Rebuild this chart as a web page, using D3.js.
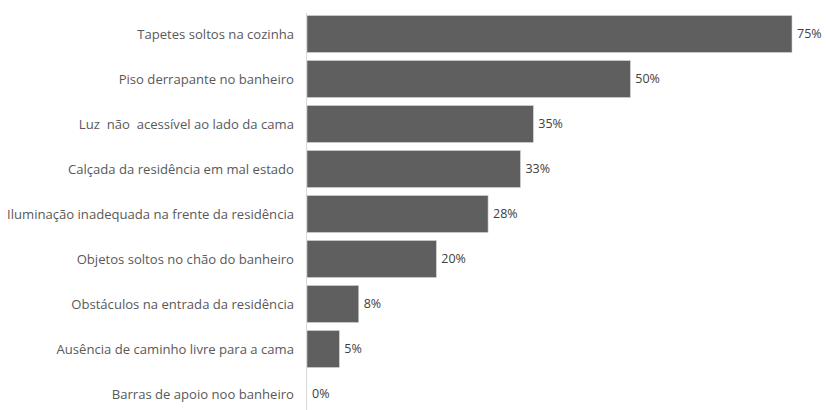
<!DOCTYPE html>
<html><head><meta charset="utf-8">
<script src="https://cdn.jsdelivr.net/npm/d3@7"></script>
<style>body{margin:0;background:#fff}svg{display:block}</style>
</head><body>
<svg id="c" width="827" height="410"></svg>
<script>
const categories = [
  "Tapetes soltos na cozinha",
  "Piso derrapante no banheiro",
  "Luz  não  acessível ao lado da cama",
  "Calçada da residência em mal estado",
  "Iluminação inadequada na frente da residência",
  "Objetos soltos no chão do banheiro",
  "Obstáculos na entrada da residência",
  "Ausência de caminho livre para a cama",
  "Barras de apoio noo banheiro"
];
const values = [75, 50, 35, 33, 28, 20, 8, 5, 0];
const valueLabels = ["75%", "50%", "35%", "33%", "28%", "20%", "8%", "5%", "0%"];

const svg = d3.select("#c");
const x0 = 307;
const x = d3.scaleLinear().domain([0, 75]).range([x0, 792]);
const y = d3.scaleBand().domain(categories).range([11.5, 416.5]).paddingInner(0.18).paddingOuter(0.09);

svg.selectAll("rect.bar").data(values).join("rect")
  .attr("class", "bar")
  .attr("x", x(0))
  .attr("y", (d, i) => y(categories[i]))
  .attr("width", d => x(d) - x(0))
  .attr("height", y.bandwidth())
  .attr("fill", "#5f5f5f")
  .attr("stroke", "#d0d0d0")
  .attr("stroke-width", 0.6);

svg.append("line")
  .attr("x1", x0 - 0.5).attr("x2", x0 - 0.5)
  .attr("y1", 13).attr("y2", 410)
  .attr("stroke", "#d9d9d9").attr("stroke-width", 1);

svg.selectAll("text.cat").data(categories).join("text")
  .attr("class", "cat")
  .attr("x", x0 - 13)
  .attr("y", d => y(d) + y.bandwidth() / 2)
  .attr("dy", "0.35em")
  .attr("text-anchor", "end")
  .attr("font-family", "'Open Sans', sans-serif")
  .attr("font-size", 13.1)
  .attr("fill", "#595959")
  .style("white-space", "pre")
  .text(d => d);

svg.selectAll("text.val").data(values).join("text")
  .attr("class", "val")
  .attr("x", d => x(d) + 5)
  .attr("y", (d, i) => y(categories[i]) + y.bandwidth() / 2)
  .attr("dy", "0.35em")
  .attr("font-family", "'Open Sans', sans-serif")
  .attr("font-size", 12.5)
  .attr("fill", "#404040")
  .text((d, i) => valueLabels[i]);
</script>
</body></html>
